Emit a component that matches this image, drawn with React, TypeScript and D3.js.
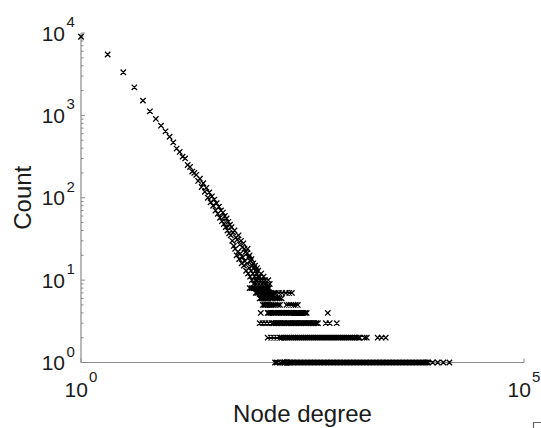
import React from 'react';
import * as d3 from 'd3';

// Node degree distribution (log-log)
const headDegrees = [1, 2, 3, 4, 5, 6, 7, 8, 9, 10, 11, 12, 13, 14, 15, 16, 17, 18, 19, 20, 21, 22, 23, 24, 25, 26, 27, 28, 29, 30, 31, 32, 33, 34, 35, 36, 37, 38, 39, 40, 41, 42, 43, 44, 45, 46, 47, 48, 49];
const headCounts = [9000, 5480, 3340, 2190, 1510, 1120, 905, 750, 640, 550, 470, 395, 360, 315, 300, 250, 236, 208, 200, 190, 160, 170, 135, 150, 118, 132, 100, 116, 88, 104, 80, 95, 70, 86, 64, 78, 57, 70, 52, 66, 48, 60, 44, 56, 40, 51, 37, 47, 35];

const midDegrees = [50, 51, 52, 53, 54, 55, 56, 57, 58, 59, 60, 61, 62, 63, 64, 65, 66, 67, 68, 69, 70, 71, 72, 73, 74, 75, 76, 77, 78, 79, 80, 81, 82, 83, 84, 85, 86, 87, 88, 89, 90, 91, 92, 93, 94, 95, 96, 97, 98, 99, 100, 102, 104, 105, 108, 110, 112, 115, 118, 120, 125, 130, 135];
const midCounts = [44, 30, 38, 26, 40, 24, 33, 20, 31, 22, 35, 18, 27, 21, 30, 16, 25, 19, 28, 15, 24, 17, 22, 13, 21, 16, 24, 12, 19, 14, 20, 11, 17, 13, 18, 10, 15, 12, 16, 9, 14, 11, 15, 10, 13, 9, 12, 14, 10, 11, 13, 9, 11, 10, 12, 9, 10, 11, 9, 10, 9, 10, 9];

const tailCount1 = [155, 163, 178, 189, 196, 201, 209, 215, 224, 231, 240, 249, 258, 268, 277, 289, 299, 311, 322, 335, 347, 361, 374, 389, 403, 419, 435, 451, 468, 486, 505, 523, 544, 564, 586, 608, 631, 655, 680, 706, 733, 761, 790, 820, 851, 884, 917, 952, 989, 1026, 1065, 1106, 1148, 1192, 1237, 1284, 1333, 1384, 1437, 1491, 1548, 1607, 1668, 1732, 1798, 1866, 1937, 2011, 2088, 2167, 2250, 2335, 2424, 2517, 2612, 2712, 2815, 2922, 3033, 3149, 3269, 3393, 3522, 3657, 3796, 3940, 4090, 4246, 4408, 4576, 4750, 4931, 5118, 5313, 5516, 5726, 5944, 6170, 6405, 6649, 6902, 7165, 7438, 7721, 8015, 8250, 9300, 10600, 12300, 14400];
const tailCount2 = [128, 139, 150, 163, 176, 185, 195, 204, 215, 227, 238, 251, 264, 278, 292, 307, 324, 340, 358, 377, 397, 418, 440, 463, 487, 513, 540, 568, 598, 630, 663, 698, 734, 773, 814, 857, 902, 949, 999, 1052, 1107, 1166, 1227, 1292, 1360, 1400, 1590, 1680, 2230, 2470, 2750];
const tailCount3 = [104, 112, 121, 131, 142, 150, 157, 164, 171, 179, 187, 196, 205, 214, 223, 233, 244, 255, 266, 278, 291, 304, 318, 332, 347, 363, 379, 396, 414, 432, 452, 472, 580, 640, 770];
const tailCount4 = [107, 128, 133, 139, 146, 152, 158, 165, 172, 180, 188, 196, 205, 214, 224, 234, 245, 256, 268, 281, 294, 308, 322, 337, 353, 610];
const tailCount5 = [113, 118, 123, 129, 135, 142, 150, 158, 167, 176, 209, 222, 236, 251, 265, 280];
const tailCount6 = [104, 109, 114, 120, 126, 131, 139, 146, 155, 163, 174, 184];
const tailCount7 = [94, 98, 103, 109, 113, 118, 124, 129, 136, 142, 150, 158, 171, 186, 205, 224, 240];
const tailCount8 = [80, 84, 88, 91, 95, 99, 103, 106, 111, 116, 121, 127, 133];

const tailRows = [tailCount1, tailCount2, tailCount3, tailCount4, tailCount5, tailCount6, tailCount7, tailCount8];
const tailRowCounts = [1, 2, 3, 4, 5, 6, 7, 8];

const yTickValues = [1, 10, 100, 1000, 10000];
const yTickExponents = ['0', '1', '2', '3', '4'];
const xTickValues = [1, 100000];
const xTickExponents = ['0', '5'];

const xTitle = 'Node degree';
const yTitle = 'Count';

export default function App() {
  const W = 541;
  const H = 428;
  const x = d3.scaleLog().domain([1, 1e5]).range([81, 524]);
  const y = d3.scaleLog().domain([1, 1e4]).range([362.5, 33]);

  const pts: [number, number][] = [];
  headDegrees.forEach((d, i) => pts.push([d, headCounts[i]]));
  midDegrees.forEach((d, i) => pts.push([d, midCounts[i]]));
  tailRows.forEach((row, r) => row.forEach((d) => pts.push([d, tailRowCounts[r]])));

  const s = 2.7;
  const markerPath = pts
    .map(([d, c]) => {
      const px = x(d);
      const py = y(c);
      return `M${px - s},${py - s}L${px + s},${py + s}M${px - s},${py + s}L${px + s},${py - s}`;
    })
    .join('');

  const axisColor = '#8a8a8a';
  const textColor = '#1a1a1a';
  const font = '"Liberation Sans", Arial, sans-serif';

  const yMinor = y.ticks().filter((t) => !yTickValues.includes(t));

  return (
    <svg width={W} height={H} style={{ position: 'absolute', left: 0, top: 0, background: '#fff' }} fontFamily={font}>
      <rect x={0} y={0} width={W} height={H} fill="#fff" />
      {/* axes */}
      <line x1={x(1)} x2={x(1)} y1={y(1e4)} y2={y(1)} stroke={axisColor} strokeWidth={1.2} />
      <line x1={x(1)} x2={x(1e5)} y1={y(1)} y2={y(1)} stroke={axisColor} strokeWidth={1.2} />
      {yTickValues.map((t) => (
        <line key={'ym' + t} x1={x(1)} x2={x(1) + 4} y1={y(t)} y2={y(t)} stroke={axisColor} strokeWidth={1} />
      ))}
      {yMinor.map((t) => (
        <line key={'yn' + t} x1={x(1)} x2={x(1) + 2.5} y1={y(t)} y2={y(t)} stroke={axisColor} strokeWidth={1} />
      ))}
      {xTickValues.map((t) => (
        <line key={'xm' + t} x1={x(t)} x2={x(t)} y1={y(1)} y2={y(1) - 4} stroke={axisColor} strokeWidth={1} />
      ))}
      {/* y tick labels */}
      {yTickValues.map((t, i) => (
        <g key={'yl' + t}>
          <text x={65} y={y(t) + 7.5} textAnchor="end" fontSize={21} fill={textColor}>10</text>
          <text x={66.5} y={y(t) - 6} fontSize={15} fill={textColor}>{yTickExponents[i]}</text>
        </g>
      ))}
      {/* x tick labels */}
      {xTickValues.map((t, i) => (
        <g key={'xl' + t}>
          <text x={x(t) - 16.5} y={397} fontSize={21} fill={textColor}>10</text>
          <text x={x(t) + 8} y={382} fontSize={15} fill={textColor}>{xTickExponents[i]}</text>
        </g>
      ))}
      {/* titles */}
      <text x={(x(1) + x(1e5)) / 2} y={421.5} textAnchor="middle" fontSize={24} fill={textColor}>{xTitle}</text>
      <text transform={`translate(31,${(y(1) + y(1e4)) / 2}) rotate(-90)`} textAnchor="middle" fontSize={24} fill={textColor}>{yTitle}</text>
      {/* data */}
      <path d={markerPath} stroke="#000" strokeWidth={1.3} fill="none" />
      {/* corner artifact */}
      <path d="M533.5,428V422.5H541" stroke="#666" strokeWidth={1.2} fill="none" />
    </svg>
  );
}
